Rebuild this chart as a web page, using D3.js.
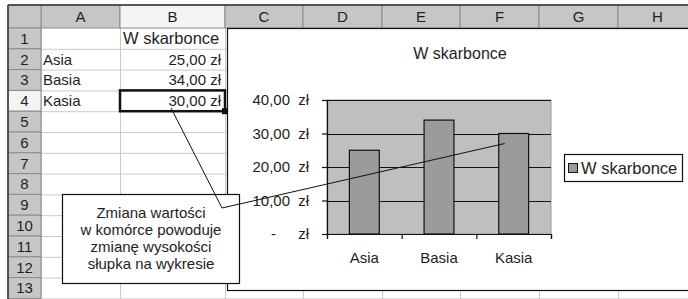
<!DOCTYPE html>
<html>
<head>
<meta charset="utf-8">
<script src="https://cdn.jsdelivr.net/npm/d3@7"></script>
<style>
  body { margin: 0; background: #fff; }
  text { font-family: "Liberation Sans", Arial, sans-serif; fill: #1e1e1e; }
</style>
</head>
<body>
<div id="sheet"></div>
<script>
//data
var seriesName = "W skarbonce";
var categories = ["Asia", "Basia", "Kasia"];
var values = [25, 34, 30];
var yTicks = [0, 10, 20, 30, 40];
var colLetters = ["A", "B", "C", "D", "E", "F", "G", "H"];
var rowNumbers = [1, 2, 3, 4, 5, 6, 7, 8, 9, 10, 11, 12, 13];
var calloutLines = ["Zmiana wartości", "w komórce powoduje", "zmianę wysokości", "słupka na wykresie"];

//sheet layout
var W = 688, H = 299;
var colEdges = [41, 120, 225, 303, 382, 460, 539, 618, 697];
var headTop = 5, headBottom = 28, rowH = 20.8, left = 8;
var fs = 15;

var svg = d3.select("#sheet").append("svg")
    .attr("width", W)
    .attr("height", H);

var fmt = function(v) { return d3.format(".2f")(v).replace(".", ",") + " zł"; };
var rowTop = function(r) { return headBottom + (r - 1) * rowH; };

//cell gridlines
var grid = svg.append("g").attr("stroke", "#cacaca").attr("stroke-width", 1);
rowNumbers.forEach(function(r) {
  grid.append("line").attr("x1", left).attr("x2", W)
    .attr("y1", rowTop(r) + rowH + 0.5).attr("y2", rowTop(r) + rowH + 0.5);
});
colEdges.forEach(function(x) {
  grid.append("line").attr("x1", x + 0.5).attr("x2", x + 0.5)
    .attr("y1", headBottom).attr("y2", H);
});

//column headers
var hdr = svg.append("g");
colLetters.forEach(function(c, i) {
  hdr.append("rect")
    .attr("x", colEdges[i]).attr("y", headTop)
    .attr("width", colEdges[i + 1] - colEdges[i]).attr("height", headBottom - headTop)
    .attr("fill", c == "B" ? "#f4f4f4" : "#c6c6c6")
    .attr("stroke", "#8a8a8a");
  hdr.append("text")
    .attr("x", (colEdges[i] + colEdges[i + 1]) / 2).attr("y", (headTop + headBottom) / 2)
    .attr("dy", "0.36em").attr("text-anchor", "middle")
    .style("font-size", fs + "px")
    .text(c);
});
hdr.append("rect").attr("x", left).attr("y", headTop)
  .attr("width", colEdges[0] - left).attr("height", headBottom - headTop)
  .attr("fill", "#c6c6c6").attr("stroke", "#8a8a8a");

//row headers
rowNumbers.forEach(function(r) {
  hdr.append("rect")
    .attr("x", left).attr("y", rowTop(r))
    .attr("width", colEdges[0] - left).attr("height", rowH)
    .attr("fill", r == 4 ? "#f4f4f4" : "#c6c6c6")
    .attr("stroke", "#8a8a8a");
  hdr.append("text")
    .attr("x", (left + colEdges[0]) / 2).attr("y", rowTop(r) + rowH / 2)
    .attr("dy", "0.36em").attr("text-anchor", "middle")
    .style("font-size", fs + "px")
    .text(r);
});

//outer frame
svg.append("line").attr("x1", left).attr("x2", W).attr("y1", headTop).attr("y2", headTop)
  .attr("stroke", "#333").attr("stroke-width", 1.5);
svg.append("line").attr("x1", left).attr("x2", left).attr("y1", headTop).attr("y2", H)
  .attr("stroke", "#333").attr("stroke-width", 1.5);

//cell contents
var cells = svg.append("g").style("font-size", fs + "px");
cells.append("text")
  .attr("x", colEdges[1] + 3).attr("y", rowTop(1) + rowH / 2).attr("dy", "0.36em")
  .style("font-size", "16.5px")
  .text(seriesName);
cells.selectAll(".cat").data(categories).enter().append("text")
  .attr("class", "cat")
  .attr("x", colEdges[0] + 2)
  .attr("y", function(d, i) { return rowTop(i + 2) + rowH / 2; })
  .attr("dy", "0.36em")
  .text(function(d) { return d; });
cells.selectAll(".val").data(values).enter().append("text")
  .attr("class", "val")
  .attr("x", colEdges[2] - 4)
  .attr("y", function(d, i) { return rowTop(i + 2) + rowH / 2; })
  .attr("dy", "0.36em").attr("text-anchor", "end")
  .text(function(d) { return fmt(d); });

//active cell B4
svg.append("rect")
  .attr("x", colEdges[1]).attr("y", rowTop(4))
  .attr("width", colEdges[2] - colEdges[1]).attr("height", rowH)
  .attr("fill", "none").attr("stroke", "#111").attr("stroke-width", 2.5);
svg.append("rect")
  .attr("x", colEdges[2] - 3).attr("y", rowTop(4) + rowH - 3)
  .attr("width", 6).attr("height", 6).attr("fill", "#111");

//chart area
var chartBox = {x: 227, y: 28, x2: 700, y2: 290};
svg.append("rect")
  .attr("x", chartBox.x + 0.5).attr("y", chartBox.y + 0.5)
  .attr("width", chartBox.x2 - chartBox.x).attr("height", chartBox.y2 - chartBox.y)
  .attr("fill", "#fff").attr("stroke", "#111").attr("stroke-width", 1.2);

var chart = svg.append("g");

chart.append("text")
  .attr("x", 460).attr("y", 53).attr("dy", "0.36em")
  .attr("text-anchor", "middle")
  .style("font-size", "16px")
  .text(seriesName);

var plot = {left: 327, right: 551, top: 100, bottom: 234};

var x = d3.scaleBand().domain(categories)
  .range([plot.left, plot.right])
  .paddingInner(0.6).paddingOuter(0.3);
var xTick = d3.scaleLinear().domain([0, categories.length]).range([plot.left, plot.right]);
var y = d3.scaleLinear().domain([0, 40]).range([plot.bottom, plot.top]);

//plot area background
chart.append("rect")
  .attr("x", plot.left).attr("y", plot.top)
  .attr("width", plot.right - plot.left).attr("height", plot.bottom - plot.top)
  .attr("fill", "#bfbfbf").attr("stroke", "#9a9a9a");

//gridlines
chart.selectAll(".gridline").data(yTicks.filter(function(d) { return d > 0; })).enter()
  .append("line")
  .attr("class", "gridline")
  .attr("x1", plot.left).attr("x2", plot.right)
  .attr("y1", function(d) { return Math.round(y(d)) + 0.5; })
  .attr("y2", function(d) { return Math.round(y(d)) + 0.5; })
  .attr("stroke", "#111").attr("stroke-width", 1.2);

//bars
chart.selectAll(".bar").data(values).enter().append("rect")
  .attr("class", "bar")
  .attr("x", function(d, i) { return x(categories[i]); })
  .attr("y", function(d) { return y(d); })
  .attr("width", x.bandwidth())
  .attr("height", function(d) { return y(0) - y(d); })
  .attr("fill", "#9b9b9b").attr("stroke", "#111").attr("stroke-width", 1.2);

//Y axis
var yAxis = d3.axisLeft(y).tickValues(yTicks).tickSize(5).tickPadding(0)
  .tickFormat(function(d) { return d == 0 ? "-" : fmt(d).replace(" zł", ""); });
var yg = chart.append("g")
  .attr("transform", "translate(" + plot.left + ",0)")
  .call(yAxis);
yg.select(".domain").attr("stroke", "#111").attr("stroke-width", 1.2);
yg.selectAll(".tick line").attr("stroke", "#111").attr("stroke-width", 1.2);
yg.selectAll(".tick text")
  .attr("x", function(d) { return d == 0 ? -51 : -37; })
  .style("font-size", fs + "px")
  .style("font-family", "'Liberation Sans', Arial, sans-serif")
  .attr("fill", "#1e1e1e");
yg.selectAll(".tick").append("text")
  .attr("x", -18).attr("dy", "0.32em")
  .attr("text-anchor", "end")
  .style("font-size", fs + "px")
  .style("font-family", "'Liberation Sans', Arial, sans-serif")
  .attr("fill", "#1e1e1e")
  .text("zł");

//X axis
var xAxis = d3.axisBottom(xTick).tickValues(d3.range(categories.length + 1))
  .tickSize(5).tickFormat("");
var xg = chart.append("g")
  .attr("transform", "translate(0," + plot.bottom + ")")
  .call(xAxis);
xg.select(".domain").attr("stroke", "#111").attr("stroke-width", 1.2);
xg.selectAll(".tick line").attr("stroke", "#111").attr("stroke-width", 1.2);

chart.selectAll(".xlab").data(categories).enter().append("text")
  .attr("class", "xlab")
  .attr("x", function(d) { return x(d) + x.bandwidth() / 2; })
  .attr("y", 258).attr("dy", "0.36em")
  .attr("text-anchor", "middle")
  .style("font-size", fs + "px")
  .text(function(d) { return d; });

//legend
var leg = chart.append("g");
leg.append("rect")
  .attr("x", 564.5).attr("y", 154.5).attr("width", 118).attr("height", 27)
  .attr("fill", "#fff").attr("stroke", "#111").attr("stroke-width", 1.2);
leg.append("rect")
  .attr("x", 568.5).attr("y", 163.5).attr("width", 9).attr("height", 9)
  .attr("fill", "#9b9b9b").attr("stroke", "#111");
leg.append("text")
  .attr("x", 581).attr("y", 168).attr("dy", "0.36em")
  .style("font-size", "16.5px")
  .text(seriesName);

//callout
var callout = svg.append("g");
callout.append("rect")
  .attr("x", 62.5).attr("y", 194.5).attr("width", 177).attr("height", 89)
  .attr("fill", "#fff").attr("stroke", "#111").attr("stroke-width", 1.2);
callout.selectAll(".cl").data(calloutLines).enter().append("text")
  .attr("class", "cl")
  .attr("x", 151)
  .attr("y", function(d, i) { return 213 + i * 16.7; })
  .attr("dy", "0.36em")
  .attr("text-anchor", "middle")
  .style("font-size", fs + "px")
  .text(function(d) { return d; });

//pointer lines from the cell and to the bar
var kasiaBar = x(categories[2]) + x.bandwidth() / 2;
callout.append("path")
  .attr("d", d3.line()([[171, 108], [222, 208], [kasiaBar - 9, y(values[2]) + 10]]))
  .attr("fill", "none").attr("stroke", "#111").attr("stroke-width", 1);
</script>
</body>
</html>
